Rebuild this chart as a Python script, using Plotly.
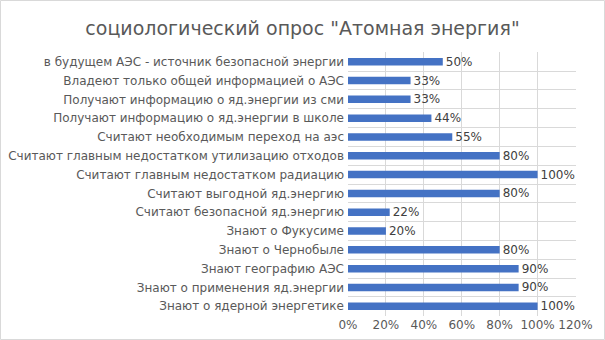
import plotly.graph_objects as go

# Survey results, listed from the bottom bar to the top bar
categories = [
    "Знают о ядерной энергетике",
    "Знают о применения яд.энергии",
    "Знают географию АЭС",
    "Знают о Чернобыле",
    "Знают о Фукусиме",
    "Считают безопасной яд.энергию",
    "Считают выгодной яд.энергию",
    "Считают главным недостатком радиацию",
    "Считают главным недостатком утилизацию отходов",
    "Считают необходимым переход на аэс",
    "Получают информацию о яд.энергии в школе",
    "Получают информацию о яд.энергии из сми",
    "Владеют только общей информацией о АЭС",
    "в будущем АЭС - источник безопасной энергии",
]
shares = [1.00, 0.90, 0.90, 0.80, 0.20, 0.22, 0.80, 1.00, 0.80, 0.55, 0.44, 0.33, 0.33, 0.50]
x_ticks = [0, 0.2, 0.4, 0.6, 0.8, 1.0, 1.2]

W, H = 605, 340
FONT = "DejaVu Sans"
positions = list(range(len(categories)))

fig = go.Figure(
    go.Bar(
        x=shares,
        y=positions,
        orientation="h",
        width=0.4,
        marker=dict(color="#4472C4", line=dict(width=0)),
        text=[f"{v:.0%}" for v in shares],
        textposition="outside",
        constraintext="none",
        cliponaxis=False,
        textfont=dict(family=FONT, size=12, color="#404040"),
    )
)

fig.update_layout(
    width=W,
    height=H,
    margin=dict(l=0, r=0, t=0, b=0),
    paper_bgcolor="white",
    plot_bgcolor="white",
    showlegend=False,
    font=dict(family=FONT, size=12, color="#595959"),
    title=dict(
        text='социологический опрос "Атомная энергия"',
        x=0.5,
        xanchor="center",
        y=1 - 28 / H,
        yanchor="middle",
        font=dict(family=FONT, size=19, color="#595959"),
    ),
    xaxis=dict(
        domain=[348 / W, 575.5 / W],
        range=[0, 1.2],
        tickvals=x_ticks,
        tickformat=".0%",
        showgrid=True,
        gridcolor="#D9D9D9",
        gridwidth=1,
        zeroline=False,
        showline=False,
        automargin=False,
        fixedrange=True,
        tickfont=dict(family=FONT, size=12, color="#595959"),
    ),
    yaxis=dict(
        domain=[(H - 315.7) / H, (H - 52.3) / H],
        range=[-0.5, len(categories) - 0.5],
        tickvals=positions,
        ticktext=categories,
        showgrid=False,
        zeroline=False,
        showline=False,
        automargin=False,
        ticks="",
        ticklabelstandoff=3,
        minor=dict(
            tick0=-0.5,
            dtick=1,
            showgrid=True,
            gridcolor="#D9D9D9",
            gridwidth=1,
        ),
        tickfont=dict(family=FONT, size=12, color="#595959"),
    ),
    shapes=[
        dict(
            type="rect",
            xref="paper",
            yref="paper",
            x0=0.5 / W,
            x1=1 - 0.5 / W,
            y0=0.5 / H,
            y1=1 - 0.5 / H,
            line=dict(color="#D9D9D9", width=1),
            fillcolor="rgba(0,0,0,0)",
            layer="below",
        )
    ],
)

fig.write_html("out.html")
